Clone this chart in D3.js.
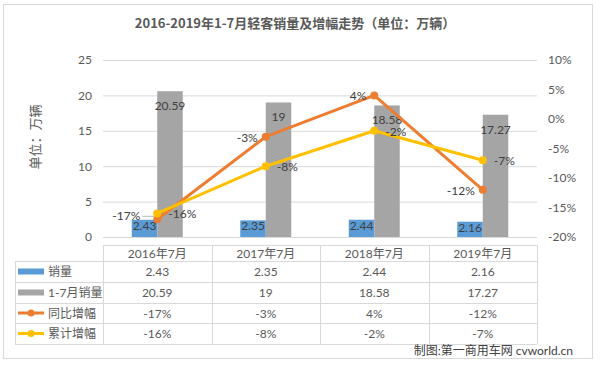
<!DOCTYPE html>
<html>
<head>
<meta charset="utf-8">
<title>轻客销量及增幅走势</title>
<script src="https://cdn.jsdelivr.net/npm/d3@7"></script>
<style>
  body { margin: 0; background: #fff; }
  text { font-family: Lato, "Noto Sans CJK SC", sans-serif; }
</style>
</head>
<body>
<script>
// data
var months = ["2016年7月", "2017年7月", "2018年7月", "2019年7月"];
var sales = [2.43, 2.35, 2.44, 2.16];
var ytdSales = [20.59, 19, 18.58, 17.27];
var yoyGrowth = [-17, -3, 4, -12];
var ytdGrowth = [-16, -8, -2, -7];
var leftTicks = [0, 5, 10, 15, 20, 25];
var rightTicks = [-20, -15, -10, -5, 0, 5, 10];

var w = 600, h = 366;
var c = { blue: "#5B9BD5", gray: "#A5A5A5", orange: "#ED7D31", yellow: "#FFC000",
          grid: "#d9d9d9", text: "#595959", label: "#404040" };

var svg = d3.select("body").append("svg")
  .attr("width", w).attr("height", h);

svg.append("rect")
  .attr("x", 3.5).attr("y", 4.5).attr("width", 589).attr("height", 354)
  .attr("fill", "#fff").attr("stroke", c.grid);

// title
svg.append("text")
  .attr("x", 295).attr("y", 28)
  .attr("text-anchor", "middle")
  .style("font-family", "'Noto Sans CJK SC', sans-serif")
  .style("font-weight", "bold").style("font-size", "13px")
  .attr("fill", c.text)
  .text("2016-2019年1-7月轻客销量及增幅走势（单位：万辆）");

var x = d3.scaleBand().domain(months).range([103, 537]);
var yL = d3.scaleLinear().domain([0, 25]).range([237, 60]);
var yR = d3.scaleLinear().domain([-20, 10]).range([237, 60]);

// gridlines
svg.append("g")
  .attr("transform", "translate(103,0)")
  .call(d3.axisLeft(yL).tickValues(leftTicks).tickSize(-434).tickFormat(""))
  .call(function (g) {
    g.select(".domain").remove();
    g.selectAll("line").attr("stroke", c.grid);
  });

// left axis labels
svg.append("g")
  .attr("transform", "translate(92,0)")
  .call(d3.axisLeft(yL).tickValues(leftTicks).tickSize(0).tickPadding(0))
  .call(function (g) {
    g.select(".domain").remove();
    g.selectAll("text").attr("fill", c.text).style("font-size", "12px")
      .style("font-family", "Lato, sans-serif");
  });

// right axis labels
svg.append("g")
  .attr("transform", "translate(548,0)")
  .call(d3.axisRight(yR).tickValues(rightTicks).tickSize(0).tickPadding(0)
    .tickFormat(function (d) { return d + "%"; }))
  .call(function (g) {
    g.select(".domain").remove();
    g.selectAll("text").attr("fill", c.text).style("font-size", "12px")
      .style("font-family", "Lato, sans-serif");
  });

// left axis title
svg.append("text")
  .attr("transform", "translate(40,137) rotate(-90)")
  .attr("text-anchor", "middle")
  .style("font-family", "'Noto Sans CJK SC', sans-serif").style("font-size", "13px")
  .attr("fill", c.text)
  .text("单位：万辆");

var bw = 25.5;
var cx = function (i) { return x(months[i]) + x.bandwidth() / 2; };

// bars
svg.selectAll(".bar-sales").data(sales).enter().append("rect")
  .attr("x", function (d, i) { return cx(i) - bw; })
  .attr("y", function (d) { return yL(d); })
  .attr("width", bw)
  .attr("height", function (d) { return yL(0) - yL(d); })
  .attr("fill", c.blue);

svg.selectAll(".bar-ytd").data(ytdSales).enter().append("rect")
  .attr("x", function (d, i) { return cx(i); })
  .attr("y", function (d) { return yL(d); })
  .attr("width", bw)
  .attr("height", function (d) { return yL(0) - yL(d); })
  .attr("fill", c.gray);

// bar labels
svg.selectAll(".lab-sales").data(sales).enter().append("text")
  .attr("x", function (d, i) { return cx(i) - bw / 2; })
  .attr("y", function (d) { return yL(d) + 10; })
  .attr("text-anchor", "middle").style("font-size", "12px")
  .attr("fill", c.label)
  .text(function (d) { return d; });

svg.selectAll(".lab-ytd").data(ytdSales).enter().append("text")
  .attr("x", function (d, i) { return cx(i) + bw / 2; })
  .attr("y", function (d) { return yL(d) + 19; })
  .attr("text-anchor", "middle").style("font-size", "12px")
  .attr("fill", c.label)
  .text(function (d) { return d; });

// lines
function drawLine(vals, color) {
  var line = d3.line()
    .x(function (d, i) { return cx(i); })
    .y(function (d) { return yR(d); });
  svg.append("path").datum(vals)
    .attr("d", line).attr("fill", "none")
    .attr("stroke", color).attr("stroke-width", 3)
    .attr("stroke-linejoin", "round");
  svg.selectAll(null).data(vals).enter().append("circle")
    .attr("cx", function (d, i) { return cx(i); })
    .attr("cy", function (d) { return yR(d); })
    .attr("r", 4).attr("fill", color);
}
drawLine(yoyGrowth, c.orange);
drawLine(ytdGrowth, c.yellow);

// line labels: year-on-year to the left, cumulative to the right
svg.selectAll(".lab-yoy").data(yoyGrowth).enter().append("text")
  .attr("x", function (d, i) { return cx(i) - (i === 0 ? 17 : 8); })
  .attr("y", function (d, i) { return yR(d) + (i === 0 ? 1 : 5); })
  .attr("text-anchor", "end").style("font-size", "12px")
  .attr("fill", c.label)
  .text(function (d) { return d + "%"; });

svg.append("line")
  .attr("x1", cx(0) - 15).attr("x2", cx(0) - 3)
  .attr("y1", yR(yoyGrowth[0]) - 3).attr("y2", yR(yoyGrowth[0]) - 3)
  .attr("stroke", "#a6a6a6").attr("stroke-width", 0.8);

svg.selectAll(".lab-ytdg").data(ytdGrowth).enter().append("text")
  .attr("x", function (d, i) { return cx(i) + 11; })
  .attr("y", function (d) { return yR(d) + 5; })
  .attr("text-anchor", "start").style("font-size", "12px")
  .attr("fill", c.label)
  .text(function (d) { return d + "%"; });

// data table
var colEdges = [103].concat(months.map(function (m) { return x(m) + x.bandwidth(); }));
var rowEdges = [261, 282, 303, 323, 344];
var tbl = svg.append("g").attr("stroke", c.grid).attr("stroke-width", 1);
tbl.append("line").attr("x1", 103).attr("x2", 537).attr("y1", 245.5).attr("y2", 245.5);
rowEdges.forEach(function (y) {
  tbl.append("line").attr("x1", 15).attr("x2", 537).attr("y1", y + 0.5).attr("y2", y + 0.5);
});
tbl.append("line").attr("x1", 15.5).attr("x2", 15.5).attr("y1", 261).attr("y2", 344);
colEdges.forEach(function (xx) {
  tbl.append("line").attr("x1", Math.round(xx) + 0.5).attr("x2", Math.round(xx) + 0.5)
    .attr("y1", 245).attr("y2", 344);
});

svg.selectAll(".hdr").data(months).enter().append("text")
  .attr("x", function (d) { return x(d) + x.bandwidth() / 2; })
  .attr("y", 257.5)
  .attr("text-anchor", "middle").style("font-size", "12px")
  .attr("fill", c.text).text(function (d) { return d; });

var rows = [
  { name: "销量", vals: sales, color: c.blue, type: "bar", fmt: function (d) { return d; } },
  { name: "1-7月销量", vals: ytdSales, color: c.gray, type: "bar", fmt: function (d) { return d; } },
  { name: "同比增幅", vals: yoyGrowth, color: c.orange, type: "line", fmt: function (d) { return d + "%"; } },
  { name: "累计增幅", vals: ytdGrowth, color: c.yellow, type: "line", fmt: function (d) { return d + "%"; } }
];

rows.forEach(function (r, k) {
  var yc = (rowEdges[k] + rowEdges[k + 1]) / 2;
  if (r.type === "bar") {
    svg.append("rect").attr("x", 18).attr("y", yc - 3).attr("width", 26).attr("height", 6)
      .attr("fill", r.color);
  } else {
    svg.append("line").attr("x1", 18).attr("x2", 44).attr("y1", yc).attr("y2", yc)
      .attr("stroke", r.color).attr("stroke-width", 3);
    svg.append("circle").attr("cx", 31).attr("cy", yc).attr("r", 3.5).attr("fill", r.color);
  }
  svg.append("text").attr("x", 48).attr("y", yc + 4.5)
    .style("font-size", "12px").attr("fill", c.text).text(r.name);
  svg.selectAll(null).data(r.vals).enter().append("text")
    .attr("x", function (d, i) { return cx(i); })
    .attr("y", yc + 4.5)
    .attr("text-anchor", "middle").style("font-size", "12px")
    .attr("fill", c.text).text(r.fmt);
});

// source note
svg.append("text")
  .attr("x", 573).attr("y", 355)
  .attr("text-anchor", "end").style("font-size", "12px")
  .attr("fill", c.label)
  .text("制图:第一商用车网 cvworld.cn");
</script>
</body>
</html>
